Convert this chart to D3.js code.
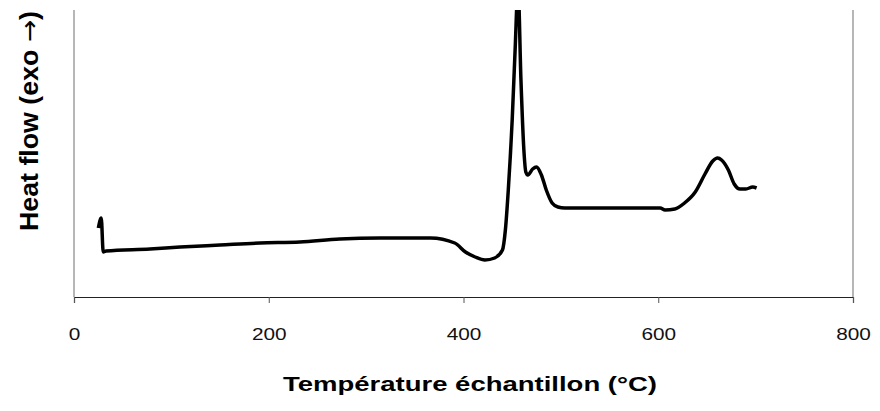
<!DOCTYPE html>
<html>
<head>
<meta charset="utf-8">
<script src="https://cdn.jsdelivr.net/npm/d3@7"></script>
<style>
body{margin:0;background:#fff}
text{font-family:"Liberation Sans",Arial,sans-serif}
</style>
</head>
<body>
<div id="chart"></div>
<script>
// data (heat flow in arbitrary units)
const temperature=[25,28,30,33,78,109,150,191,232,273,314,366,391,402,412,422,432,440,443,446,450,453,456,459,462,464,466,471,475,480,485,491,497,504,520,561,602,607,617,627,638,648,656,661,665,672,678,684,690,697,701]
const heatFlow=[69,79,45,46,48,50,52,54,55,58,59,59,54,45,40,37,39,47,67,107,177,247,310,217,147,125,122,128,130,122,107,94,90,89,89,89,89,87,88,94,105,123,136,139,137,127,113,108,108,110,109]
const xTicks=[0,200,400,600,800]
const xTitle="Température échantillon (°C)"
const yTitle=["Heat flow (exo ","\u2192",")"]

const width=880,height=411
const plotLeft=74,plotRight=853,plotTop=10,plotBottom=297

const svg=d3.select("#chart").append("svg")
  .attr("width",width)
  .attr("height",height)

const x=d3.scaleLinear().domain([0,800]).range([plotLeft,plotRight])
const y=d3.scaleLinear().domain([0,287]).range([plotBottom,plotTop])

svg.append("clipPath").attr("id","plotclip")
  .append("rect").attr("x",plotLeft).attr("y",plotTop).attr("width",plotRight-plotLeft).attr("height",plotBottom-plotTop)

// frame: grey left/right lines
svg.append("line").attr("x1",plotLeft).attr("x2",plotLeft).attr("y1",plotTop).attr("y2",plotBottom)
  .attr("stroke","#868686").attr("stroke-width",1.2)
svg.append("line").attr("x1",plotRight).attr("x2",plotRight).attr("y1",plotTop).attr("y2",plotBottom)
  .attr("stroke","#868686").attr("stroke-width",1.2)

// x axis
const xAxis=svg.append("g")
  .attr("transform",`translate(0,${plotBottom})`)
  .call(d3.axisBottom(x).tickValues(xTicks).tickSize(6).tickPadding(26).tickFormat(d3.format("d")))
xAxis.select(".domain").attr("stroke","#222").attr("stroke-width",1.2)
xAxis.selectAll(".tick line").attr("stroke","#555")
xAxis.selectAll(".tick text")
  .attr("font-size",16)
  .attr("fill","#111")
  .attr("transform","scale(1.3,1)")

// the curve
const line=d3.line()
  .x((d,i)=>x(temperature[i]))
  .y(d=>y(d))
  .curve(d3.curveMonotoneX)

svg.append("path")
  .datum(heatFlow)
  .attr("clip-path","url(#plotclip)")
  .attr("d",line)
  .attr("fill","none")
  .attr("stroke","#000")
  .attr("stroke-width",3.5)
  .attr("stroke-linejoin","round")

// titles
svg.append("text")
  .attr("x",470).attr("y",391)
  .attr("text-anchor","middle")
  .attr("font-size",21)
  .attr("font-weight","bold")
  .attr("textLength",374)
  .attr("lengthAdjust","spacingAndGlyphs")
  .text(xTitle)

const yt=svg.append("text")
  .attr("transform","translate(38,121) rotate(-90)")
  .attr("text-anchor","middle")
  .attr("font-size",25)
  .attr("font-weight","bold")
  .attr("textLength",220)
  .attr("lengthAdjust","spacingAndGlyphs")
yt.append("tspan").text(yTitle[0])
yt.append("tspan").attr("font-weight","normal").attr("font-family","DejaVu Sans").text(yTitle[1])
yt.append("tspan").text(yTitle[2])
</script>
</body>
</html>
